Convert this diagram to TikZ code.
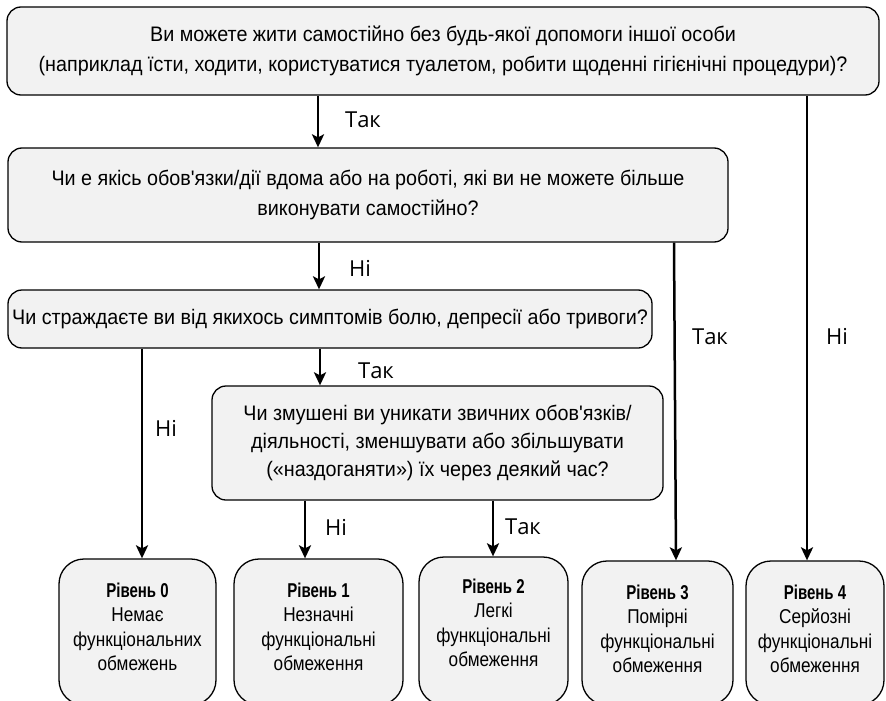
\documentclass[tikz,border=0pt]{standalone}
\usepackage{fontspec}
\newfontfamily\boxfont{Liberation Sans}[FakeStretch=0.94]
\newfontfamily\lvlfont{Liberation Sans}[FakeStretch=0.86]
\newfontfamily\lvlbold{Liberation Sans Bold}[FakeStretch=0.75]
\newfontfamily\lblfont{Open Sans}
\usetikzlibrary{arrows.meta}
\definecolor{boxfill}{HTML}{F2F2F2}
\begin{document}
\begin{tikzpicture}[x=1pt,y=-1pt,
  qbox/.style={draw=black, line width=1.3pt, fill=boxfill, rounded corners=14pt,
    inner sep=0pt, align=center, font=\boxfont\fontsize{21}{29.5}\selectfont},
  lvlbox/.style={draw=black, line width=1.3pt, fill=boxfill, rounded corners=25pt, inner sep=0pt},
  lvltext/.style={align=center, inner sep=0pt, font=\lvlfont\fontsize{20}{24.5}\selectfont},
  arr/.style={line width=2.5pt, -{Stealth[length=13pt,width=12pt,inset=3pt]}},
  lbl/.style={inner sep=0pt, font=\lblfont\fontsize{22}{24}\selectfont},
]
\useasboundingbox (0,0) rectangle (886,701);

% question boxes
\node[qbox, minimum width=872pt, minimum height=88pt] (q1) at (443,51)
  {Ви можете жити самостійно без будь-якої допомоги іншої особи\\
   (наприклад їсти, ходити, користуватися туалетом, робити щоденні гігієнічні процедури)?};
\node[qbox, minimum width=720pt, minimum height=94pt] (q2) at (368,195)
  {Чи е якісь обов'язки/дії вдома або на роботі, які ви не можете більше\\
   виконувати самостійно?};
\node[qbox, minimum width=644pt, minimum height=58pt] (q3) at (330,319)
  {Чи страждаєте ви від якихось симптомів болю, депресії або тривоги?};
\node[qbox, minimum width=451pt, minimum height=114pt, font=\boxfont\fontsize{21}{28}\selectfont] (q4) at (437.5,443)
  {Чи змушені ви уникати звичних обов'язків/\\
   діяльності, зменшувати або збільшувати\\
   («наздоганяти») їх через деякий час?};

% level boxes, running off the lower edge
\node[lvlbox, minimum width=157pt, minimum height=146pt] (l0) at (137.5,632) {};
\node[lvlbox, minimum width=169pt, minimum height=146pt] (l1) at (318.5,632) {};
\node[lvlbox, minimum width=149pt, minimum height=148pt] (l2) at (493.5,631) {};
\node[lvlbox, minimum width=151pt, minimum height=144pt] (l3) at (657.5,633) {};
\node[lvlbox, minimum width=138pt, minimum height=144pt] (l4) at (815,633) {};

\node[lvltext] (t0) at (137.5,627) {{\lvlbold Рівень 0}\\Немає\\функціональних\\обмежень};
\node[lvltext] (t1) at (318.5,627) {{\lvlbold Рівень 1}\\Незначні\\функціональні\\обмеження};
\node[lvltext] (t2) at (493.5,623) {{\lvlbold Рівень 2}\\Легкі\\функціональні\\обмеження};
\node[lvltext] (t3) at (657.5,629) {{\lvlbold Рівень 3}\\Помірні\\функціональні\\обмеження};
\node[lvltext] (t4) at (815,629) {{\lvlbold Рівень 4}\\Серйозні\\функціональні\\обмеження};

% connectors
\draw[arr] (q1.south -| 318,0) -- (q2.north -| 318,0);
\draw[arr] (q2.south -| 319,0) -- (q3.north -| 319,0);
\draw[arr] (q3.south -| 320,0) -- (q4.north -| 320,0);
\draw[arr] (q3.south -| 142,0) -- (l0.north -| 142,0);
\draw[arr] (q4.south -| 305,0) -- (l1.north -| 305,0);
\draw[arr] (q4.south -| 493,0) -- (l2.north -| 493,0);
\draw[arr] (q2.south -| 674,0) -- (l3.north -| 676,0);
\draw[arr] (q1.south -| 807,0) -- (l4.north -| 807,0);

% connector labels
\node[lbl] (a1) at (363,120) {Так};
\node[lbl] (a2) at (360,268) {Ні};
\node[lbl] (a3) at (376,371) {Так};
\node[lbl] (a4) at (710,337) {Так};
\node[lbl] (a5) at (837,336) {Ні};
\node[lbl] (a6) at (166,428) {Ні};
\node[lbl] (a7) at (336,527) {Ні};
\node[lbl] (a8) at (523,527) {Так};
\end{tikzpicture}
\end{document}
